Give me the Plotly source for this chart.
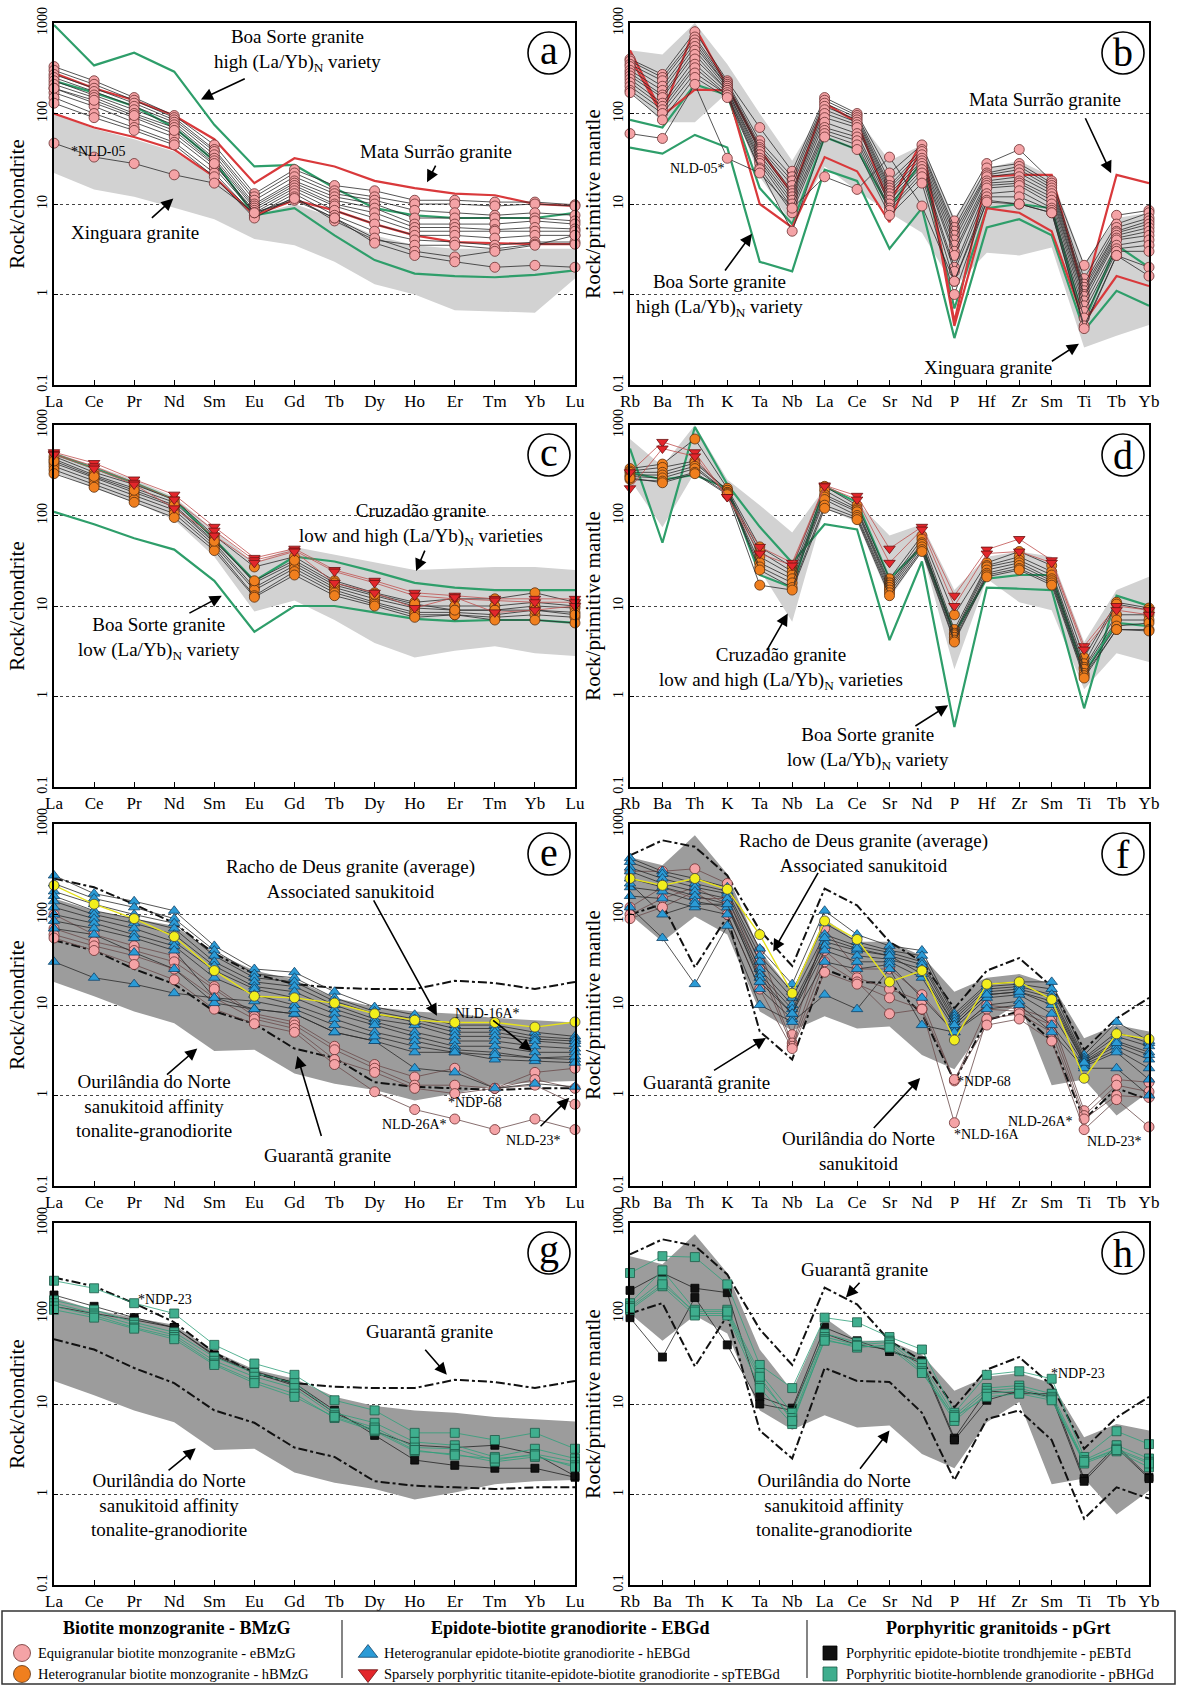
import plotly.graph_objects as go

W, H = 1177, 1686

# ----------------------------------------------------------------- categories
REE = ["La", "Ce", "Pr", "Nd", "Sm", "Eu", "Gd", "Tb", "Dy", "Ho", "Er", "Tm", "Yb", "Lu"]
SPIDER = ["Rb", "Ba", "Th", "K", "Ta", "Nb", "La", "Ce", "Sr", "Nd", "P", "Hf", "Zr", "Sm", "Ti", "Tb", "Yb"]
Y_TICKS = [0.1, 1, 10, 100, 1000]
Y_TICK_TEXT = ["0.1", "1", "10", "100", "1000"]

# ----------------------------------------------------------------- panel a (REE, eBMzG)
A_EBMZG = [
    [330, 230, 150, 95, 45, 13, 24, 16, 14, 11, 11, 10.5, 10.5, 9.8],
    [300, 210, 140, 90, 40, 12, 22, 14, 12, 10, 10, 9.5, 10, 9.5],
    [270, 190, 130, 85, 38, 11, 20, 13, 11, 8.5, 8, 7.5, 8, 7.5],
    [250, 175, 120, 80, 35, 10, 18, 12, 10, 7, 7, 7, 7, 6.5],
    [230, 160, 110, 75, 32, 9.5, 17, 11, 9, 6, 6, 6, 6.5, 6],
    [210, 150, 100, 70, 30, 9, 16, 10, 8, 5.5, 5.5, 5.2, 5.5, 5.3],
    [190, 130, 90, 60, 27, 8.5, 15, 9.5, 7, 5, 5, 5, 5, 5],
    [170, 120, 80, 55, 25, 8, 14, 8.5, 6, 4.5, 4.5, 4.2, 4.5, 4.5],
    [150, 100, 70, 48, 22, 7.5, 13, 7.5, 5, 4, 3.8, 3.5, 3.8, 3.8],
    [130, 90, 65, 45, 20, 7, 12, 6.5, 4, 3.5, 3.5, 3.2, 3.6, 3.6],
    [190, 140, 95, 65, 28, 8, 11, 7, 4.2, 3, 2.6, 3, 3.5, 4.5],
]
A_NLD05 = [47, 33, 28, 21, 17, 8, 11.5, 7, 3.7, 2.7, 2.3, 2.0, 2.1, 2.0]
XING_REE_UP = [100, 68, 52, 38, 20, 7.5, 10, 7, 4.5, 3.5, 3.2, 3.2, 3.2, 3.2]
XING_REE_LO = [22, 14.5, 12, 9.1, 6.8, 4.1, 3.5, 2.3, 1.3, 1.0, 0.67, 0.65, 0.63, 1.5]
MS_REE_UP = [280, 190, 140, 95, 52, 17, 32, 26, 18, 15, 13, 12.5, 10, 9.5]
MS_REE_LO = [100, 70, 55, 40, 20, 7.5, 11, 8.5, 6, 4.5, 3.8, 3.7, 3.6, 3.6]
BS_REE_HI1 = [950, 340, 470, 290, 75, 26, 27, 15, 9, 7.5, 7, 7, 7, 8]
BS_REE_HI2 = [230, 170, 120, 70, 30, 7.5, 9, 4.5, 2.4, 1.7, 1.6, 1.55, 1.65, 1.85]

# ----------------------------------------------------------------- panel b (spider, eBMzG)
B_EBMZG = [
    [400, 270, 800, 230, 70, 23, 150, 100, 22, 45, 6.5, 28, 40, 18, 2.1, 7.5, 8.5],
    [380, 250, 700, 220, 50, 20, 140, 95, 18, 40, 5.5, 25, 28, 17, 1.5, 6, 8],
    [350, 230, 650, 210, 45, 18, 130, 90, 16, 38, 5, 22, 26, 16, 1.3, 5.5, 7],
    [330, 200, 600, 200, 42, 16, 120, 85, 15, 35, 4.5, 21, 24, 15, 1.2, 5, 6.5],
    [300, 180, 550, 200, 40, 14, 110, 80, 14, 32, 4, 20, 22, 14, 1.1, 4.8, 6],
    [280, 160, 500, 190, 38, 13, 100, 75, 13, 30, 3.5, 18, 20, 13, 1.0, 4.5, 5.5],
    [260, 150, 450, 180, 35, 12, 90, 70, 12, 28, 3, 17, 18, 12, 0.95, 4.2, 5],
    [240, 130, 400, 180, 32, 11, 80, 60, 11, 26, 2.7, 16, 17, 11, 0.85, 4, 4.5],
    [220, 120, 350, 170, 30, 10, 70, 55, 10, 24, 2, 15, 16, 10, 0.75, 3.5, 4],
    [200, 110, 320, 160, 28, 9, 65, 50, 9, 22, 1.8, 13, 14, 9, 0.65, 3.2, 3.5],
    [180, 100, 280, 160, 25, 8, 60, 45, 8.5, 20, 1.4, 12, 12, 8.5, 0.55, 3, 3],
    [170, 85, 250, 150, 24, 5, 55, 40, 7.5, 17, 1.0, 11, 10, 8, 0.45, 2.7, 2],
]
B_NLD05 = [60, 53, 210, 32, 22, 9, 20, 14.5, 33, 9.5, 1.4, 10.5, 10, 8, 0.42, 2.7, 1.6]
XING_SP_UP = [500, 450, 1000, 350, 100, 30, 120, 90, 30, 45, 7, 25, 30, 20, 2.2, 7, 8]
XING_SP_LO = [180, 80, 80, 170, 20, 6, 26, 14, 8, 4.8, 1.2, 2.9, 2.7, 3.3, 0.26, 0.35, 0.46]
MS_SP_UP = [500, 100, 900, 200, 40, 13, 130, 80, 10, 50, 0.5, 20, 21, 21, 1.0, 21, 17]
MS_SP_LO = [420, 95, 184, 180, 10, 5.5, 33, 23, 6.3, 45, 0.45, 9, 8, 5, 0.5, 1.6, 1.24]
BS_SP_HI1 = [85, 70, 210, 160, 15, 6, 55, 40, 9, 30, 0.7, 9, 10, 9, 0.5, 3.5, 2]
BS_SP_HI2 = [42, 36, 58, 42, 2.3, 1.8, 24, 18, 3.2, 9, 0.33, 5.5, 6.8, 4.5, 0.4, 1.1, 0.75]

# ----------------------------------------------------------------- panel c (REE, hBMzG + spTEBGd)
C_HBMZG = [
    [450, 300, 220, 150, 60, 27, 35, 19, 14, 11, 12, 12, 14, 11],
    [420, 280, 200, 140, 55, 18, 30, 17, 13, 10, 10, 10, 11, 10],
    [380, 260, 180, 125, 50, 16, 28, 16, 12, 9.5, 9, 9, 10, 9.5],
    [350, 240, 165, 115, 47, 15, 26, 15, 11, 8.5, 8.5, 8, 9, 8.5],
    [320, 220, 150, 105, 44, 13, 24, 14, 10.5, 8, 8, 7.5, 8, 7.5],
    [290, 205, 140, 95, 41, 12.5, 22, 13, 10, 7.5, 8, 7, 7, 6.5],
    [400, 270, 190, 130, 52, 19, 32, 18, 13.5, 10.5, 9, 9, 9, 8],
]
C_SPTEBGD = [
    [500, 380, 250, 170, 75, 34, 43, 25, 19, 14, 13, 12, 12, 12],
    [480, 350, 230, 150, 68, 32, 41, 24, 18, 13, 12, 11.5, 11, 11],
    [470, 330, 220, 120, 60, 30, 40, 18, 14, 9.5, 12.5, 8.5, 9, 10],
]
CRUZ_REE_UP = [500, 350, 250, 160, 70, 30, 45, 37, 30, 25, 26, 27, 27, 25]
CRUZ_REE_LO = [300, 200, 140, 90, 35, 8.7, 11.5, 7, 3.9, 2.7, 3.2, 3.6, 3.0, 2.8]
BS_REE_LO1 = [110, 80, 56, 42, 19, 5.2, 10, 10, 8.5, 7.2, 6.8, 7, 7, 6.5]
BS_REE_LO2 = [480, 330, 230, 150, 55, 19, 35, 31, 24, 18, 16, 15, 15, 15]

# ----------------------------------------------------------------- panel d (spider, hBMzG + spTEBGd)
D_HBMZG = [
    [330, 370, 700, 200, 45, 27, 210, 130, 20, 60, 8, 30, 40, 28, 2.7, 11, 9.5],
    [310, 340, 400, 190, 40, 24, 190, 120, 18, 55, 5.5, 28, 35, 24, 2.3, 10.5, 9],
    [300, 300, 380, 190, 35, 22, 170, 115, 17, 50, 5, 27, 32, 22, 2.1, 8, 8],
    [280, 280, 350, 180, 30, 20, 160, 110, 16, 48, 4.8, 25, 30, 20, 2.0, 7, 7],
    [270, 260, 330, 180, 27, 18, 150, 100, 15, 45, 4.5, 23, 28, 19, 1.8, 6, 6.5],
    [250, 240, 300, 175, 25, 16, 130, 95, 14, 42, 4.2, 22, 26, 18, 1.7, 5.5, 5.5],
    [260, 230, 290, 170, 17, 15, 120, 90, 13, 40, 4, 21, 25, 17, 1.6, 5.5, 5.3],
]
D_SPTEBGD = [
    [300, 650, 500, 160, 45, 30, 215, 165, 43, 75, 13, 42, 55, 32, 3.6, 10, 9],
    [200, 550, 450, 160, 38, 28, 210, 150, 30, 70, 10, 38, 40, 30, 3.3, 9, 8],
]
CRUZ_SP_UP = [700, 350, 1000, 250, 130, 65, 200, 140, 60, 80, 15, 35, 40, 35, 4, 15, 21]
CRUZ_SP_LO = [250, 74, 300, 190, 25, 6.7, 120, 85, 12, 40, 2, 20, 11, 9, 1.2, 3, 2.4]
BS_SP_LO1 = [550, 50, 950, 220, 75, 30, 80, 70, 4.2, 31, 0.46, 16, 15.5, 15, 0.74, 13, 10]
BS_SP_LO2 = [300, 250, 280, 200, 22, 16, 210, 140, 20, 45, 5, 20, 22, 22, 1.8, 6.5, 6]

# ----------------------------------------------------------------- panel e (REE, hEBGd + eBMzG)
E_HEBGD = [
    [270, 170, 140, 110, 45, 25, 23, 14, 9.5, 7.8, 6, 6, 5, 4.5],
    [220, 150, 120, 90, 40, 22, 20, 12, 8.5, 7, 5.5, 5.5, 4.5, 4.2],
    [180, 130, 100, 80, 35, 20, 18, 11, 8, 6.5, 5, 5, 4.2, 4],
    [160, 110, 90, 70, 30, 18, 16, 10, 7, 6, 4.5, 4.5, 4, 3.7],
    [140, 100, 80, 60, 27, 16, 14, 9, 6.5, 5, 4, 4, 3.5, 3.3],
    [120, 90, 70, 50, 24, 15, 12, 8, 6, 4.5, 3.5, 3.5, 3, 3],
    [100, 80, 60, 45, 20, 13, 10, 7, 5, 4, 3.2, 3, 2.6, 2.5],
    [85, 70, 55, 40, 12, 9, 8, 5, 4, 3, 3, 2.5, 2.4, 2.3],
    [70, 60, 38, 25, 10.5, 9, 8, 5, 4, 2, 1.8, 1.2, 1.35, 1.25],
    [30, 20, 17, 13.5, 12, 11, 9, 6, 4.5, 3.5, 3, 2.8, 2.6, 2.7],
]
E_EBMZG = [
    [100, 60, 45, 35, 16, 8, 6.5, 3.5, 2.2, 1.6, 2.0, 1.2, 1.8, 2.0],
    [70, 50, 40, 30, 15, 7.5, 6, 3.2, 2.0, 1.3, 1.3, 1.2, 1.5, 1.2],
    [60, 45, 35, 25, 12, 7, 5.5, 2.5, 1.8, 1.2, 1.05, 1.2, 1.3, 0.8],
    [55, 40, 28, 19, 9, 6.2, 5, 2.2, 1.1, 0.7, 0.55, 0.42, 0.55, 0.42],
]
RACHO_REE = [210, 130, 90, 57, 24, 12.5, 12, 10.5, 8, 6.8, 6.4, 6.4, 5.7, 6.5]
OURIL_REE_UP = [150, 110, 90, 75, 38, 24, 19, 12, 9.5, 8.5, 8, 7.2, 6.8, 6.4]
OURIL_REE_LO = [18, 12.5, 8.5, 6.3, 3.1, 3.2, 1.75, 1.35, 1.15, 0.88, 1.05, 1.3, 1.4, 1.45]
GUAR_REE_UP = [250, 200, 130, 80, 37, 22, 17, 15.5, 15, 15, 18.5, 17.5, 15, 18]
GUAR_REE_LO = [52, 40, 25, 17, 8.5, 6.2, 3.3, 2.6, 1.4, 1.25, 1.2, 1.15, 1.2, 1.2]

# ----------------------------------------------------------------- panel f (spider, hEBGd + eBMzG)
F_HEBGD = [
    [420, 300, 250, 200, 42, 17, 110, 60, 45, 40, 8, 17, 18, 18, 2.8, 6.5, 4],
    [380, 280, 220, 180, 35, 14, 80, 50, 40, 35, 7.5, 16, 17, 15, 2.6, 5, 3.8],
    [330, 250, 200, 170, 30, 12, 60, 45, 38, 30, 7, 15, 16, 13, 2.5, 4.5, 3.5],
    [300, 220, 180, 150, 25, 10, 50, 40, 35, 28, 6.5, 14, 15, 12, 2.4, 4, 3],
    [250, 200, 160, 130, 22, 9, 45, 35, 32, 25, 6, 13, 14, 10, 2.3, 3.5, 2.5],
    [200, 180, 140, 120, 20, 8, 40, 30, 30, 20, 5.5, 12, 13, 8, 2.2, 3.2, 2],
    [160, 150, 120, 100, 15, 7, 30, 25, 28, 12, 5, 10, 11, 6, 2.1, 3, 1.5],
    [120, 55, 17, 75, 10, 6.5, 13, 9, 25, 6, 5, 9, 10, 5, 2.0, 2, 1.0],
    [220, 100, 130, 130, 18, 8, 55, 42, 35, 22, 6, 13, 14, 11, 2.3, 3.8, 2.8],
]
F_EBMZG = [
    [300, 300, 320, 220, 40, 4.7, 70, 25, 25, 13, 5, 10, 9, 7, 0.68, 1.5, 1.4],
    [120, 200, 150, 150, 30, 3.8, 40, 20, 15, 11, 1.45, 9, 8.5, 6, 0.6, 1.3, 1.1],
    [100, 150, 200, 130, 25, 3.5, 30, 18, 8, 9, 0.5, 7, 8, 5, 0.55, 1.0, 0.95],
    [90, 120, 180, 100, 15, 3.3, 23, 17, 12, 9, 1.5, 6, 7, 4, 0.42, 0.9, 0.45],
]
RACHO_SP = [250, 210, 250, 190, 60, 13.5, 85, 53, 18, 24, 4.1, 17, 18, 11.5, 1.55, 4.8, 4.2]
OURIL_SP_UP = [430, 350, 750, 280, 40, 14, 90, 50, 50, 35, 14, 20, 22, 17, 4.3, 6, 5.1]
OURIL_SP_LO = [100, 50, 95, 60, 8.5, 5.2, 7.5, 5.5, 5.8, 2.8, 1.95, 6.3, 10.5, 1.3, 1.5, 0.6, 1.1]
GUAR_SP_UP = [450, 660, 560, 270, 67, 27, 193, 126, 50, 30, 9.2, 24, 33, 16, 3.2, 7.1, 12]
GUAR_SP_LO = [100, 130, 26, 95, 5.1, 2.5, 25, 18, 17.5, 8, 1.44, 6.8, 8.5, 4, 0.54, 1.2, 0.9]

# ----------------------------------------------------------------- panels g, h (pBHGd + pEBTd)
G_PBHGD = [
    [230, 190, 130, 100, 45, 28, 21, 11, 8.5, 4.8, 4.8, 4, 4.8, 3.2],
    [140, 110, 80, 62, 33, 22, 17, 8, 6.2, 3.8, 3.5, 2.6, 3.2, 2.5],
    [130, 100, 75, 58, 30, 20, 15, 7.5, 5.5, 3.3, 3.2, 2.4, 2.8, 2.3],
    [120, 95, 70, 55, 28, 18, 13, 7, 5, 3.0, 2.8, 2.3, 2.6, 2.1],
    [110, 90, 68, 52, 27, 17, 12, 7.2, 5.2, 3.1, 2.7, 2.5, 2.7, 2.0],
]
G_PEBTD = [
    [160, 120, 90, 70, 35, 23, 17, 8.5, 4.5, 2.4, 2.1, 1.95, 1.95, 1.55],
    [120, 100, 85, 70, 34, 22, 16, 8, 5, 3.5, 3.3, 3.5, 2.8, 1.6],
]
H_PBHGD = [
    [280, 430, 420, 210, 27, 15, 90, 80, 55, 40, 8, 21, 23, 19, 2.6, 5, 3.6],
    [130, 300, 110, 110, 22, 8, 60, 48, 50, 28, 7.5, 15, 16, 13, 2.4, 3.5, 2.5],
    [120, 230, 100, 100, 18, 7, 55, 45, 48, 25, 7, 14, 15, 12, 2.3, 3.2, 2.3],
    [110, 200, 95, 95, 15, 6, 52, 42, 45, 23, 6.5, 13, 14, 11.5, 2.2, 3.0, 2.0],
    [115, 210, 105, 105, 20, 6.5, 50, 44, 42, 22, 7.2, 12, 13, 11, 2.3, 3.1, 2.2],
]
H_PEBTD = [
    [180, 280, 190, 170, 12, 9, 70, 50, 38, 30, 4.2, 14, 13, 13, 1.5, 3.5, 1.55],
    [90, 33, 150, 45, 10, 8.5, 60, 45, 40, 28, 4.0, 11, 14, 12, 1.4, 3.3, 1.5],
]

# ----------------------------------------------------------------- geometry & styles
COL_X = {"L": (54, 575), "R": (630, 1149)}
ROW_TOP = [23, 425, 824, 1223]
PH = 362
PANELS = ["a", "b", "c", "d", "e", "f", "g", "h"]
SERIF = "Liberation Serif, Times New Roman, serif"

def box(p):
    i = PANELS.index(p)
    x0, x1 = COL_X["L" if i % 2 == 0 else "R"]
    y0 = ROW_TOP[i // 2]
    return x0, x1, y0, y0 + PH

def paper(px, py):
    return px / W, 1 - py / H

def frac(p, fx, fy):
    x0, x1, y0, y1 = box(p)
    return paper(x0 + fx * (x1 - x0), y0 + fy * (y1 - y0))

def axid(p):
    i = PANELS.index(p) + 1
    return ("x" if i == 1 else f"x{i}"), ("y" if i == 1 else f"y{i}")

PINK = dict(symbol="circle", size=10, color="#f4a3a6", line=dict(color="#6b2f2f", width=0.8))
ORANGE = dict(symbol="circle", size=10, color="#f07f1e", line=dict(color="#5a3010", width=0.8))
BLUE = dict(symbol="triangle-up", size=10, color="#2b9bd6", line=dict(color="#12446a", width=0.8))
RED = dict(symbol="triangle-down", size=10, color="#e3262b", line=dict(color="#6a1010", width=0.8))
BLACKSQ = dict(symbol="square", size=8, color="#111111", line=dict(color="#000000", width=0.8))
GREENSQ = dict(symbol="square", size=9, color="#3fae8e", line=dict(color="#1d5a48", width=0.8))
YELLOW = dict(symbol="circle", size=10, color="#f2ee1c", line=dict(color="#444444", width=0.8))

LIGHT_FIELD = "#d2d2d2"
DARK_FIELD = "#9c9c9c"
MS_RED = "#d9393b"
BS_GREEN = "#2e9e6a"

fig = go.Figure()

def field(p, cats, up, lo, color):
    xa, ya = axid(p)
    fig.add_trace(go.Scatter(x=cats + cats[::-1], y=up + lo[::-1], mode="lines", fill="toself",
                             fillcolor=color, line=dict(width=0, color=color), xaxis=xa, yaxis=ya,
                             hoverinfo="skip", showlegend=False))

def ref_line(p, cats, vals, color, width=2.2, dash="solid"):
    xa, ya = axid(p)
    fig.add_trace(go.Scatter(x=cats, y=vals, mode="lines", line=dict(color=color, width=width, dash=dash),
                             xaxis=xa, yaxis=ya, showlegend=False, cliponaxis=False))

def samples(p, cats, rows, marker, lcolor="#2a2a2a", lwidth=0.8):
    xa, ya = axid(p)
    for r in rows:
        fig.add_trace(go.Scatter(x=cats, y=r, mode="lines+markers", marker=marker,
                                 line=dict(color=lcolor, width=lwidth), xaxis=xa, yaxis=ya,
                                 showlegend=False, cliponaxis=False))

# panel a
field("a", REE, XING_REE_UP, XING_REE_LO, LIGHT_FIELD)
ref_line("a", REE, BS_REE_HI1, BS_GREEN)
ref_line("a", REE, BS_REE_HI2, BS_GREEN)
ref_line("a", REE, MS_REE_UP, MS_RED)
ref_line("a", REE, MS_REE_LO, MS_RED)
samples("a", REE, A_EBMZG + [A_NLD05], PINK)
# panel b
field("b", SPIDER, XING_SP_UP, XING_SP_LO, LIGHT_FIELD)
ref_line("b", SPIDER, BS_SP_HI1, BS_GREEN)
ref_line("b", SPIDER, BS_SP_HI2, BS_GREEN)
ref_line("b", SPIDER, MS_SP_UP, MS_RED)
ref_line("b", SPIDER, MS_SP_LO, MS_RED)
samples("b", SPIDER, B_EBMZG + [B_NLD05], PINK)
# panel c
field("c", REE, CRUZ_REE_UP, CRUZ_REE_LO, LIGHT_FIELD)
ref_line("c", REE, BS_REE_LO1, BS_GREEN)
ref_line("c", REE, BS_REE_LO2, BS_GREEN)
samples("c", REE, C_HBMZG, ORANGE)
samples("c", REE, C_SPTEBGD, RED, lcolor="#c0504f")
# panel d
field("d", SPIDER, CRUZ_SP_UP, CRUZ_SP_LO, LIGHT_FIELD)
ref_line("d", SPIDER, BS_SP_LO1, BS_GREEN)
ref_line("d", SPIDER, BS_SP_LO2, BS_GREEN)
samples("d", SPIDER, D_HBMZG, ORANGE)
samples("d", SPIDER, D_SPTEBGD, RED, lcolor="#c0504f")
# panel e
field("e", REE, OURIL_REE_UP, OURIL_REE_LO, DARK_FIELD)
ref_line("e", REE, GUAR_REE_UP, "#111111", 2, "dashdot")
ref_line("e", REE, GUAR_REE_LO, "#111111", 2, "dashdot")
samples("e", REE, E_EBMZG, PINK, lcolor="#6a4a4a")
samples("e", REE, E_HEBGD, BLUE)
samples("e", REE, [RACHO_REE], YELLOW, lcolor="#e6e21a", lwidth=1.4)
# panel f
field("f", SPIDER, OURIL_SP_UP, OURIL_SP_LO, DARK_FIELD)
ref_line("f", SPIDER, GUAR_SP_UP, "#111111", 2, "dashdot")
ref_line("f", SPIDER, GUAR_SP_LO, "#111111", 2, "dashdot")
samples("f", SPIDER, F_EBMZG, PINK, lcolor="#6a4a4a")
samples("f", SPIDER, F_HEBGD, BLUE)
samples("f", SPIDER, [RACHO_SP], YELLOW, lcolor="#e6e21a", lwidth=1.4)
# panel g
field("g", REE, OURIL_REE_UP, OURIL_REE_LO, DARK_FIELD)
ref_line("g", REE, GUAR_REE_UP, "#111111", 2, "dashdot")
ref_line("g", REE, GUAR_REE_LO, "#111111", 2, "dashdot")
samples("g", REE, G_PEBTD, BLACKSQ, lcolor="#222222")
samples("g", REE, G_PBHGD, GREENSQ, lcolor="#2f9f7a")
# panel h
field("h", SPIDER, OURIL_SP_UP, OURIL_SP_LO, DARK_FIELD)
ref_line("h", SPIDER, GUAR_SP_UP, "#111111", 2, "dashdot")
ref_line("h", SPIDER, GUAR_SP_LO, "#111111", 2, "dashdot")
samples("h", SPIDER, H_PEBTD, BLACKSQ, lcolor="#222222")
samples("h", SPIDER, H_PBHGD, GREENSQ, lcolor="#2f9f7a")

# ----------------------------------------------------------------- axes
layout = dict(width=W, height=H, margin=dict(l=0, r=0, t=0, b=0), paper_bgcolor="white",
              plot_bgcolor="rgba(0,0,0,0)", showlegend=False, font=dict(family=SERIF, color="black"))
for p in PANELS:
    i = PANELS.index(p) + 1
    x0, x1, y0, y1 = box(p)
    cats = REE if i % 2 == 1 else SPIDER
    xk = "xaxis" if i == 1 else f"xaxis{i}"
    yk = "yaxis" if i == 1 else f"yaxis{i}"
    xa, ya = axid(p)
    layout[xk] = dict(domain=[x0 / W, x1 / W], anchor=ya, type="category", categoryorder="array",
                      categoryarray=cats, range=[0, len(cats) - 1], showline=True, linecolor="black",
                      linewidth=1.6, mirror=True, ticks="inside", ticklen=5, tickcolor="black",
                      showgrid=False, zeroline=False, tickfont=dict(family=SERIF, size=17, color="black"),
                      layer="above traces", fixedrange=True, automargin=False)
    layout[yk] = dict(domain=[1 - y1 / H, 1 - y0 / H], anchor=xa, type="log", range=[-1, 3],
                      tickvals=Y_TICKS, ticktext=Y_TICK_TEXT, tickangle=-90, showline=True,
                      linecolor="black", linewidth=1.6, mirror=True, ticks="inside", ticklen=4,
                      tickcolor="black", showgrid=True, gridcolor="#444444", griddash="dot", gridwidth=1,
                      zeroline=False, tickfont=dict(family=SERIF, size=14, color="black"),
                      title=dict(text="Rock/chondrite" if i % 2 == 1 else "Rock/primitive mantle",
                                 font=dict(family=SERIF, size=21, color="black"), standoff=4),
                      layer="above traces", fixedrange=True, automargin=False)

# legend overlay axis (pixel space of the legend strip)
layout["xaxis9"] = dict(domain=[0, 1], range=[0, W], visible=False, anchor="y9", fixedrange=True)
layout["yaxis9"] = dict(domain=[0, (H - 1600) / H], range=[H, 1600], visible=False, anchor="x9", fixedrange=True)
fig.update_layout(**layout)

# ----------------------------------------------------------------- annotations
ann = []
shapes = []

def text(p, fx, fy, t, size=19, xanchor="center"):
    x, y = frac(p, fx, fy)
    ann.append(dict(x=x, y=y, xref="paper", yref="paper", text=t, showarrow=False, align="center",
                    xanchor=xanchor, yanchor="middle", font=dict(family=SERIF, size=size, color="black")))

def arrow(p, tail, tip):
    x0, x1, y0, y1 = box(p)
    x, y = frac(p, *tip)
    ann.append(dict(x=x, y=y, xref="paper", yref="paper", text="", showarrow=True, arrowhead=2,
                    arrowsize=1.5, arrowwidth=1.6, arrowcolor="black", standoff=0,
                    ax=(tail[0] - tip[0]) * (x1 - x0), ay=(tail[1] - tip[1]) * (y1 - y0)))

LAYB = "(La/Yb)<sub>N</sub>"
# a
text("a", 0.467, 0.075, "Boa Sorte granite<br>high " + LAYB + " variety")
arrow("a", (0.369, 0.152), (0.282, 0.211))
text("a", 0.734, 0.354, "Mata Surrão granite")
arrow("a", (0.734, 0.39), (0.716, 0.44))
text("a", 0.156, 0.579, "Xinguara granite")
arrow("a", (0.185, 0.542), (0.229, 0.485))
text("a", 0.028, 0.354, "*NLD-05", size=14, xanchor="left")
# b
text("b", 0.799, 0.212, "Mata Surrão granite")
arrow("b", (0.876, 0.259), (0.927, 0.415))
text("b", 0.129, 0.402, "NLD-05*", size=14)
text("b", 0.173, 0.752, "Boa Sorte granite<br>high " + LAYB + " variety")
arrow("b", (0.181, 0.688), (0.235, 0.582))
text("b", 0.689, 0.951, "Xinguara granite")
arrow("b", (0.810, 0.937), (0.865, 0.886))
# c
text("c", 0.705, 0.275, "Cruzadão granite<br>low and high " + LAYB + " varieties")
arrow("c", (0.713, 0.343), (0.695, 0.403))
text("c", 0.202, 0.591, "Boa Sorte granite<br>low " + LAYB + " variety")
arrow("c", (0.257, 0.522), (0.322, 0.472))
# d
text("d", 0.291, 0.673, "Cruzadão granite<br>low and high " + LAYB + " varieties")
arrow("d", (0.262, 0.627), (0.304, 0.521))
text("d", 0.459, 0.894, "Boa Sorte granite<br>low " + LAYB + " variety")
arrow("d", (0.547, 0.834), (0.613, 0.774))
# e
text("e", 0.569, 0.152, "Racho de Deus granite (average)<br>Associated sanukitoid")
arrow("e", (0.612, 0.207), (0.735, 0.530))
text("e", 0.833, 0.523, "NLD-16A*", size=14)
arrow("e", (0.840, 0.539), (0.917, 0.627))
text("e", 0.808, 0.770, "*NDP-68", size=14)
text("e", 0.692, 0.829, "NLD-26A*", size=14)
text("e", 0.920, 0.875, "NLD-23*", size=14)
arrow("e", (0.931, 0.839), (0.989, 0.756))
text("e", 0.192, 0.779, "Ourilândia do Norte<br>sanukitoid affinity<br>tonalite-granodiorite")
arrow("e", (0.214, 0.696), (0.275, 0.620))
text("e", 0.525, 0.917, "Guarantã granite")
arrow("e", (0.514, 0.866), (0.467, 0.641))
# f
text("f", 0.449, 0.081, "Racho de Deus granite (average)<br>Associated sanukitoid")
arrow("f", (0.364, 0.131), (0.276, 0.352))
text("f", 0.148, 0.715, "Guarantã granite")
arrow("f", (0.159, 0.683), (0.262, 0.591))
text("f", 0.441, 0.904, "Ourilândia do Norte<br>sanukitoid")
arrow("f", (0.467, 0.844), (0.559, 0.702))
text("f", 0.683, 0.711, "*NDP-68", size=14)
text("f", 0.687, 0.858, "*NLD-16A", size=14)
text("f", 0.790, 0.821, "NLD-26A*", size=14)
text("f", 0.933, 0.876, "NLD-23*", size=14)
# g
text("g", 0.214, 0.212, "*NDP-23", size=14)
text("g", 0.721, 0.300, "Guarantã granite")
arrow("g", (0.710, 0.346), (0.754, 0.419))
text("g", 0.221, 0.779, "Ourilândia do Norte<br>sanukitoid affinity<br>tonalite-granodiorite")
arrow("g", (0.217, 0.687), (0.272, 0.622))
# h
text("h", 0.452, 0.128, "Guarantã granite")
arrow("h", (0.445, 0.161), (0.416, 0.206))
text("h", 0.863, 0.417, "*NDP-23", size=14)
text("h", 0.394, 0.780, "Ourilândia do Norte<br>sanukitoid affinity<br>tonalite-granodiorite")
arrow("h", (0.441, 0.683), (0.500, 0.573))

# panel letters in circles
for p in PANELS:
    x0, x1, y0, y1 = box(p)
    cx, cy, r = x1 - 26, y0 + 30, 21
    shapes.append(dict(type="circle", xref="paper", yref="paper", x0=(cx - r) / W, x1=(cx + r) / W,
                       y0=1 - (cy + r) / H, y1=1 - (cy - r) / H, line=dict(color="black", width=1.6),
                       fillcolor="white", layer="above"))
    dy = -4 if p in ("g",) else (-2 if p in ("a", "c", "e") else 0)
    ann.append(dict(x=cx / W, y=1 - (cy + dy) / H, xref="paper", yref="paper", text=p, showarrow=False,
                    xanchor="center", yanchor="middle", font=dict(family=SERIF, size=40, color="black")))

# ----------------------------------------------------------------- legend strip
shapes.append(dict(type="rect", xref="paper", yref="paper", x0=2 / W, x1=1175 / W, y0=1 - 1684 / H,
                   y1=1 - 1611 / H, line=dict(color="#333333", width=1.5), fillcolor="rgba(0,0,0,0)"))
for sx in (342, 807):
    shapes.append(dict(type="line", xref="paper", yref="paper", x0=sx / W, x1=sx / W, y0=1 - 1678 / H,
                       y1=1 - 1620 / H, line=dict(color="#333333", width=1.2)))

LEG_HEADERS = [("Biotite monzogranite - BMzG", 176), ("Epidote-biotite granodiorite - EBGd", 570),
               ("Porphyritic granitoids - pGrt", 998)]
LEG_ITEMS = [
    (22, 1653, "Equigranular biotite monzogranite - eBMzG", PINK),
    (22, 1674, "Heterogranular biotite monzogranite - hBMzG", ORANGE),
    (368, 1653, "Heterogranular epidote-biotite granodiorite - hEBGd", BLUE),
    (368, 1674, "Sparsely porphyritic titanite-epidote-biotite granodiorite - spTEBGd", RED),
    (830, 1653, "Porphyritic epidote-biotite trondhjemite - pEBTd", BLACKSQ),
    (830, 1674, "Porphyritic biotite-hornblende granodiorite - pBHGd", GREENSQ),
]
for t, cx in LEG_HEADERS:
    ann.append(dict(x=cx / W, y=1 - 1628 / H, xref="paper", yref="paper", text="<b>" + t + "</b>",
                    showarrow=False, xanchor="center", yanchor="middle",
                    font=dict(family=SERIF, size=18, color="black")))
for mx, my, t, mk in LEG_ITEMS:
    m = dict(mk)
    m["size"] = 17 if m["symbol"] != "square" else 14
    fig.add_trace(go.Scatter(x=[mx], y=[my], mode="markers", marker=m, xaxis="x9", yaxis="y9",
                             showlegend=False, hoverinfo="skip", cliponaxis=False))
    ann.append(dict(x=(mx + 14) / W, y=1 - my / H, xref="paper", yref="paper", text=t, showarrow=False,
                    xanchor="left", yanchor="middle", font=dict(family=SERIF, size=14.5, color="black")))

fig.update_layout(annotations=ann, shapes=shapes)
fig.write_html("out.html")
